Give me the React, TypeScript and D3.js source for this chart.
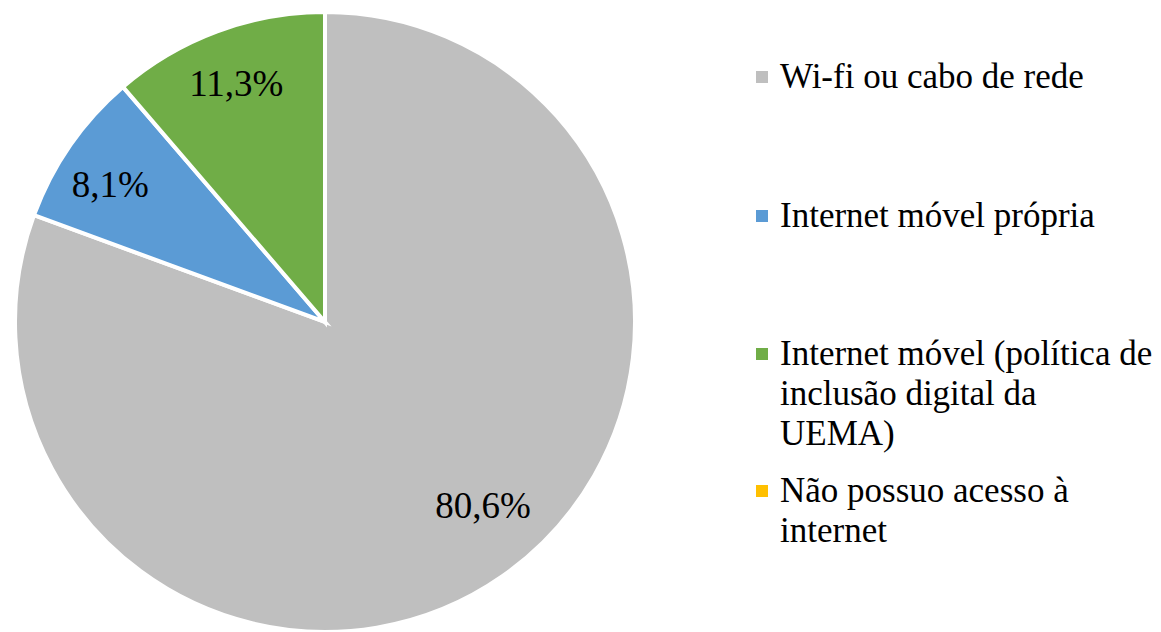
import React from "react";
import * as d3 from "d3";

// Internet access type, share of respondents (%)
const categories = [
  "Wi-fi ou cabo de rede",
  "Internet móvel própria",
  "Internet móvel (política de inclusão digital da UEMA)",
  "Não possuo acesso à internet",
];
const values = [80.6, 8.1, 11.3, 0];
const valueLabels = ["80,6%", "8,1%", "11,3%", ""];
// Legend text broken into lines as it wraps in the legend box
const legendLines = [
  ["Wi-fi ou cabo de rede"],
  ["Internet móvel própria"],
  ["Internet móvel (política de", "inclusão digital da", "UEMA)"],
  ["Não possuo acesso à", "internet"],
];
const colors = ["#BFBFBF", "#5B9BD5", "#70AD47", "#FFC000"];

const WIDTH = 1161;
const HEIGHT = 632;
const FONT = '"Liberation Serif", "Times New Roman", serif';

export default function App() {
  const cx = 325;
  const cy = 322;
  const radius = 310;

  const pie = d3
    .pie<number>()
    .sort(null)
    .startAngle(0)
    .endAngle(2 * Math.PI)
    .value((d) => d);
  const arcs = pie(values);

  const arc = d3.arc<d3.PieArcDatum<number>>().innerRadius(0).outerRadius(radius);

  // label placement: fraction of radius and angular nudge (degrees) per slice
  const labelRadius = [0.78, 0.823, 0.823, 0.8];
  const labelShift = [-5.9, -2.1, 0, 0];

  // legend layout
  const legendX = 756;
  const markerSize = 12;
  const textX = 780;
  const lineHeight = 40;
  const firstBaselines = [88, 227, 365, 502];

  return (
    <svg
      width={WIDTH}
      height={HEIGHT}
      style={{ position: "absolute", left: 0, top: 0, display: "block", background: "#fff" }}
    >
      <g transform={`translate(${cx},${cy})`}>
        {arcs.map((a, i) =>
          a.endAngle - a.startAngle > 0 ? (
            <path key={i} d={arc(a) || ""} fill={colors[i]} stroke="#fff" strokeWidth={4} strokeLinejoin="miter" />
          ) : null
        )}
        {arcs.map((a, i) => {
          if (!valueLabels[i]) return null;
          const mid = (a.startAngle + a.endAngle) / 2 + (labelShift[i] * Math.PI) / 180;
          const r = radius * labelRadius[i];
          const x = r * Math.sin(mid);
          const y = -r * Math.cos(mid);
          return (
            <text
              key={`l${i}`}
              x={x}
              y={y}
              dy="0.35em"
              textAnchor="middle"
              style={{ fontFamily: FONT, fontSize: "37px" }}
              fill="#000"
            >
              {valueLabels[i]}
            </text>
          );
        })}
      </g>
      <g>
        {categories.map((c, i) => (
          <g key={c}>
            <rect
              x={legendX}
              y={firstBaselines[i] - 11 - markerSize / 2}
              width={markerSize}
              height={markerSize}
              fill={colors[i]}
            />
            <text x={textX} y={firstBaselines[i]} style={{ fontFamily: FONT, fontSize: "35px" }} fill="#000">
              {legendLines[i].map((line, j) => (
                <tspan key={j} x={textX} y={firstBaselines[i] + j * lineHeight}>
                  {line}
                </tspan>
              ))}
            </text>
          </g>
        ))}
      </g>
    </svg>
  );
}
